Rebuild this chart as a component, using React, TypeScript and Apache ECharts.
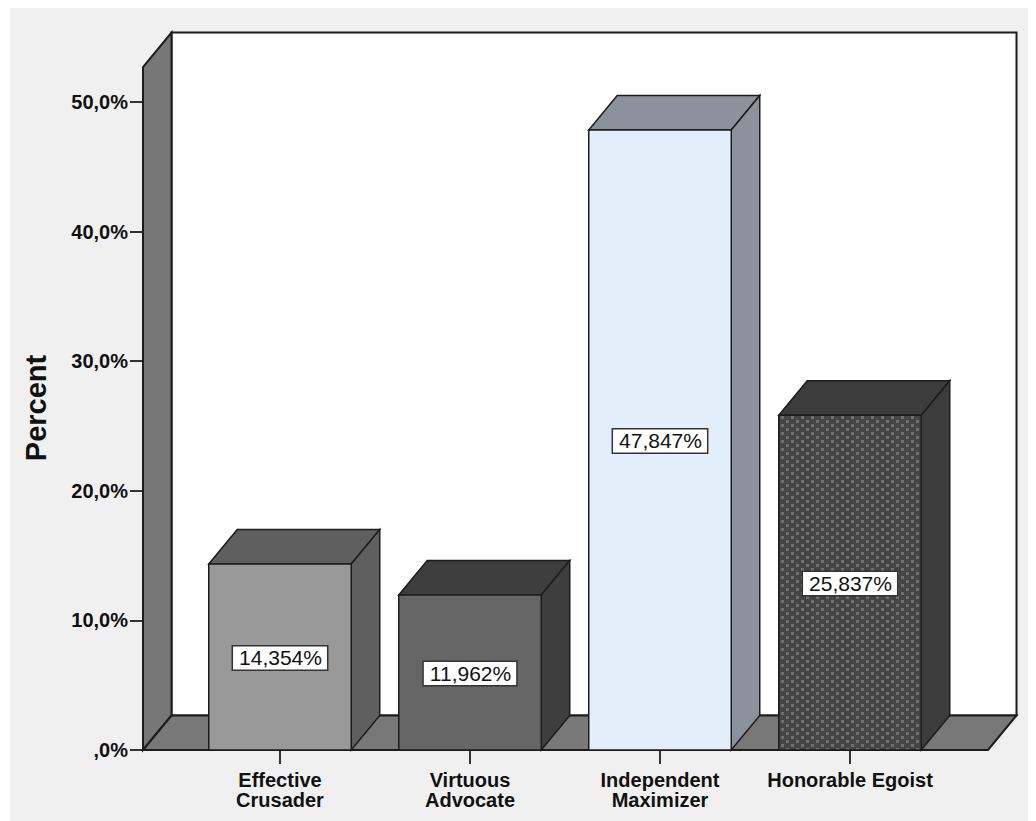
import React, { useEffect, useRef } from 'react';
import * as echarts from 'echarts';

// ---- data ----
const categories = ['Effective\nCrusader', 'Virtuous\nAdvocate', 'Independent\nMaximizer', 'Honorable Egoist'];
const percents = [14.354, 11.962, 47.847, 25.837];
const yMin = 0;
const yMax = 50;
const yInterval = 10;
const axisTitle = 'Percent';

// ---- style ----
const frontColors = ['#999999', '#666666', '#e2eefa', 'PATTERN'];
const shadeColors = ['#5f5f5f', '#3e3e3e', '#8b929b', '#3c3c3c'];
const WALL_TOP = 52.7; // height of the walls in value units
const DX = 28.5;
const DY = -34.5;
const PAD_L = 42;
const PAD_R = 43;
const EDGE = '#1c1c1c';
const FONT = '"Liberation Sans", Arial, sans-serif';

const fmtPct = (v: number) => v.toFixed(3).replace('.', ',') + '%';
const fmtTick = (v: number) => (v === 0 ? ',0%' : v.toFixed(1).replace('.', ',') + '%');

function makePattern(): any {
  const c = document.createElement('canvas');
  c.width = 10;
  c.height = 8;
  const ctx = c.getContext('2d');
  if (!ctx) return '#555555';
  ctx.fillStyle = '#454545';
  ctx.fillRect(0, 0, 10, 8);
  ctx.fillStyle = '#707070';
  ctx.fillRect(1, 0, 3, 3);
  ctx.fillRect(6, 4, 3, 3);
  return { image: c, repeat: 'repeat' };
}

export default function App() {
  const ref = useRef<HTMLDivElement>(null);
  useEffect(() => {
    if (!ref.current) return;
    const chart = echarts.init(ref.current, undefined, { renderer: 'svg' });
    const pattern = makePattern();

    const option: any = {
      animation: false,
      backgroundColor: '#f0f0f0',
      grid: { left: 175, top: 94, width: 760, height: 648, containLabel: false },
      graphic: [
        {
          type: 'text',
          x: 26,
          y: 400,
          rotation: Math.PI / 2,
          style: {
            text: axisTitle,
            font: `bold 29px ${FONT}`,
            fill: '#111',
            align: 'center',
            verticalAlign: 'middle',
          },
        },
      ],
      xAxis: {
        type: 'category',
        data: categories,
        axisLine: { show: false },
        axisTick: { show: true, alignWithLabel: true, length: 14, lineStyle: { color: '#333', width: 2 } },
        axisLabel: {
          interval: 0,
          margin: 20,
          fontWeight: 'bold',
          fontSize: 20,
          lineHeight: 20,
          color: '#111',
          fontFamily: FONT,
        },
        splitLine: { show: false },
      },
      yAxis: {
        type: 'value',
        min: yMin,
        max: yMax,
        interval: yInterval,
        offset: PAD_L,
        axisLine: { show: false },
        axisTick: { show: true, length: 13, lineStyle: { color: '#333', width: 2 } },
        axisLabel: {
          margin: 15,
          formatter: fmtTick,
          color: '#111',
          fontWeight: 'bold',
          fontSize: 20,
          fontFamily: FONT,
          padding: [10, 0, 0, 0],
        },
        splitLine: { show: false },
      },
      series: [
        {
          type: 'custom',
          silent: true,
          data: [[0, 0]],
          renderItem: (params: any, api: any) => {
            const cs = params.coordSys;
            const yb = api.coord([0, 0])[1];
            const yt = api.coord([0, WALL_TOP])[1];
            const xl = cs.x - PAD_L;
            const xr = cs.x + cs.width + PAD_R;
            const st = { stroke: EDGE, lineWidth: 2 };
            return {
              type: 'group',
              children: [
                {
                  type: 'rect',
                  shape: { x: xl + DX, y: yt + DY, width: xr - xl, height: yb - yt },
                  style: { fill: '#ffffff', ...st },
                },
                {
                  type: 'polygon',
                  shape: { points: [[xl, yb], [xl, yt], [xl + DX, yt + DY], [xl + DX, yb + DY]] },
                  style: { fill: '#777777', ...st },
                },
                {
                  type: 'polygon',
                  shape: { points: [[xl, yb], [xl + DX, yb + DY], [xr + DX, yb + DY], [xr, yb]] },
                  style: { fill: '#787878', ...st },
                },
              ],
            };
          },
        },
        {
          type: 'custom',
          data: percents.map((v, i) => [i, v]),
          renderItem: (params: any, api: any) => {
            const i = api.value(0);
            const v = api.value(1);
            const top = api.coord([i, v]);
            const base = api.coord([i, 0]);
            const w = api.size([1, 0])[0] * 0.75;
            const x0 = top[0] - w / 2;
            const x1 = top[0] + w / 2;
            const yt = top[1];
            const yb = base[1];
            const front = frontColors[i] === 'PATTERN' ? pattern : frontColors[i];
            const shade = shadeColors[i];
            const st = { stroke: EDGE, lineWidth: 1.5 };
            return {
              type: 'group',
              children: [
                {
                  type: 'polygon',
                  shape: { points: [[x0, yt], [x0 + DX, yt + DY], [x1 + DX, yt + DY], [x1, yt]] },
                  style: { fill: shade, ...st },
                },
                {
                  type: 'polygon',
                  shape: { points: [[x1, yt], [x1 + DX, yt + DY], [x1 + DX, yb + DY], [x1, yb]] },
                  style: { fill: shade, ...st },
                },
                {
                  type: 'rect',
                  shape: { x: x0, y: yt, width: w, height: yb - yt },
                  style: { fill: front, ...st },
                },
                {
                  type: 'text',
                  x: top[0],
                  y: (yt + yb) / 2 + 1,
                  style: {
                    text: fmtPct(v),
                    font: `21px ${FONT}`,
                    fill: '#111',
                    align: 'center',
                    verticalAlign: 'middle',
                    backgroundColor: '#ffffff',
                    borderColor: '#333333',
                    borderWidth: 1.5,
                    padding: [1, 5, 0, 6],
                    lineHeight: 22,
                    shadowColor: 'rgba(0,0,0,0)',
                  },
                },
              ],
            };
          },
        },
      ],
    };
    chart.setOption(option);
    return () => chart.dispose();
  }, []);

  return (
    <div
      ref={ref}
      style={{ width: 1026, height: 813, marginLeft: 2, background: '#f0f0f0' }}
    />
  );
}
